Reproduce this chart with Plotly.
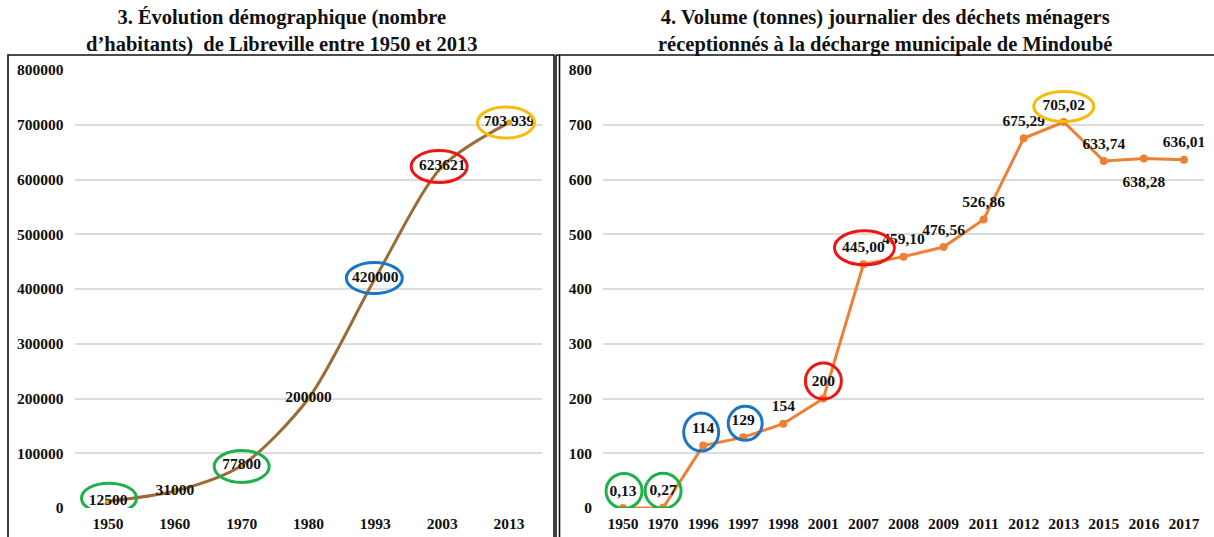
import plotly.graph_objects as go

# ---- data -------------------------------------------------------------
pop_years = ["1950", "1960", "1970", "1980", "1993", "2003", "2013"]
pop_values = [12500, 31000, 77800, 200000, 420000, 623621, 703939]
pop_labels = ["12500", "31000", "77800", "200000", "420000", "623621", "703 939"]

waste_years = ["1950", "1970", "1996", "1997", "1998", "2001", "2007", "2008",
               "2009", "2011", "2012", "2013", "2015", "2016", "2017"]
waste_values = [0.13, 0.27, 114, 129, 154, 200, 445.00, 459.10, 476.56,
                526.86, 675.29, 705.02, 633.74, 638.28, 636.01]
waste_labels = ["0,13", "0,27", "114", "129", "154", "200", "445,00", "459,10",
                "476,56", "526,86", "675,29", "705,02", "633,74", "638,28", "636,01"]

pop_ticks = [0, 100000, 200000, 300000, 400000, 500000, 600000, 700000, 800000]
waste_ticks = [0, 100, 200, 300, 400, 500, 600, 700, 800]

title_left = "3. Évolution démographique (nombre<br>d’habitants)  de Libreville entre 1950 et 2013"
title_right = "4. Volume (tonnes) journalier des déchets ménagers<br>réceptionnés à la décharge municipale de Mindoubé"

# ---- styles -----------------------------------------------------------
W, H = 1214, 537
SERIF = "Liberation Serif, Times New Roman, serif"
GREEN, BLUE, RED, YELLOW = "#1DB04B", "#1A75C4", "#F01515", "#F5BC0A"
BROWN, GOLD, ORANGE = "#9C6A36", "#E0A412", "#EE8035"

tick_font = dict(family=SERIF, size=15.5, color="#111111", weight="bold")
label_font = dict(family=SERIF, size=15.5, color="#111111", weight="bold")

pop_idx = list(range(len(pop_years)))
waste_idx = list(range(len(waste_years)))

fig = go.Figure()

fig.add_trace(go.Scatter(
    x=pop_idx, y=pop_values, mode="lines+markers+text",
    line=dict(color=BROWN, width=3, shape="spline", smoothing=0.8),
    marker=dict(color=GOLD, size=6),
    text=pop_labels, textposition="middle center", textfont=label_font,
    xaxis="x", yaxis="y", showlegend=False, hoverinfo="skip",
))

fig.add_trace(go.Scatter(
    x=waste_idx, y=waste_values, mode="lines+markers",
    line=dict(color=ORANGE, width=3),
    marker=dict(color=ORANGE, size=8),
    xaxis="x2", yaxis="y2", showlegend=False, hoverinfo="skip",
))

# value labels of the waste series, above the points (one below);
# the invisible marker sets the gap between point and label
waste_pos = ["top center"] * len(waste_values)
waste_pos[13] = "bottom center"
gap = [12] * len(waste_values)
gap[13] = 26
fig.add_trace(go.Scatter(
    x=waste_idx, y=waste_values, mode="markers+text",
    marker=dict(size=gap, opacity=0),
    text=waste_labels, textposition=waste_pos, textfont=label_font,
    xaxis="x2", yaxis="y2", showlegend=False, hoverinfo="skip",
))

# highlight rings: (axis, point index, colour, half-width, half-height, dx, dy)
rings = [
    ("", 0, GREEN, 27.5, 15, 1, 3),
    ("", 2, GREEN, 27.5, 16, 0, -1),
    ("", 4, BLUE, 28, 15.5, -1, 0),
    ("", 5, RED, 28, 16, -3, 0),
    ("", 6, YELLOW, 28.5, 15.5, -3, 0),
    ("2", 0, GREEN, 18, 17.5, 1, 17),
    ("2", 1, GREEN, 18, 17.5, 0, 17),
    ("2", 2, BLUE, 17.5, 19, -2, 13.5),
    ("2", 3, BLUE, 17, 17, 2, 14),
    ("2", 5, RED, 18, 18, 0, 17.5),
    ("2", 6, RED, 30, 17, 1, 16.5),
    ("2", 11, YELLOW, 30, 15, 0, 15.5),
]
for ax, i, col, rx, ry, dx, dy in rings:
    vals = pop_values if ax == "" else waste_values
    fig.add_shape(
        type="circle", xref="x" + ax, yref="y" + ax,
        xsizemode="pixel", ysizemode="pixel",
        xanchor=i, yanchor=vals[i],
        x0=dx - rx, x1=dx + rx, y0=dy - ry, y1=dy + ry,
        line=dict(color=col, width=3), layer="above",
    )

# panel frames
def px(x):
    return x / W

def py(y):
    return 1 - y / H

frame = dict(color="#111111", width=1.6)
fig.add_shape(type="rect", xref="paper", yref="paper",
              x0=px(8), x1=px(554), y0=py(560), y1=py(55), line=frame)
fig.add_shape(type="line", xref="paper", yref="paper",
              x0=px(556), x1=px(556), y0=py(560), y1=py(55), line=frame)
fig.add_shape(type="line", xref="paper", yref="paper",
              x0=px(559.5), x1=px(559.5), y0=py(560), y1=py(55), line=frame)
fig.add_shape(type="line", xref="paper", yref="paper",
              x0=px(556), x1=px(1220), y0=py(55), y1=py(55), line=frame)

# titles
title_font = dict(family=SERIF, size=20.5, color="#111111", weight="bold")
for cx, t in [(282, title_left), (885, title_right)]:
    fig.add_annotation(x=px(cx), y=py(31.5), xref="paper", yref="paper",
                       text=t, showarrow=False, font=title_font,
                       xanchor="center", yanchor="middle", align="center")

ydom = [py(508), py(70)]
xaxis_common = dict(showgrid=False, zeroline=False, automargin=False,
                    showline=False, ticks="", tickfont=tick_font,
                    ticklabelstandoff=4, fixedrange=True)
yaxis_common = dict(showgrid=True, gridcolor="#DCDCDC", gridwidth=1.6,
                    zeroline=False, showline=False, ticks="", automargin=False,
                    tickfont=tick_font, ticklabelstandoff=10, fixedrange=True)

fig.update_layout(
    width=W, height=H, autosize=False,
    margin=dict(l=0, r=0, t=0, b=0, pad=0),
    paper_bgcolor="white", plot_bgcolor="white",
    xaxis=dict(domain=[px(74.6), px(542.4)], anchor="y",
               range=[-0.5, len(pop_years) - 0.5],
               tickvals=pop_idx, ticktext=pop_years, **xaxis_common),
    yaxis=dict(domain=ydom, anchor="x", range=[0, 800000],
               tickvals=pop_ticks, ticktext=[str(v) for v in pop_ticks],
               **yaxis_common),
    xaxis2=dict(domain=[px(603), px(1204)], anchor="y2",
                range=[-0.5, len(waste_years) - 0.5],
                tickvals=waste_idx, ticktext=waste_years, **xaxis_common),
    yaxis2=dict(domain=ydom, anchor="x2", range=[0, 800],
                tickvals=waste_ticks, ticktext=[str(v) for v in waste_ticks],
                **yaxis_common),
)

fig.write_html("out.html")
